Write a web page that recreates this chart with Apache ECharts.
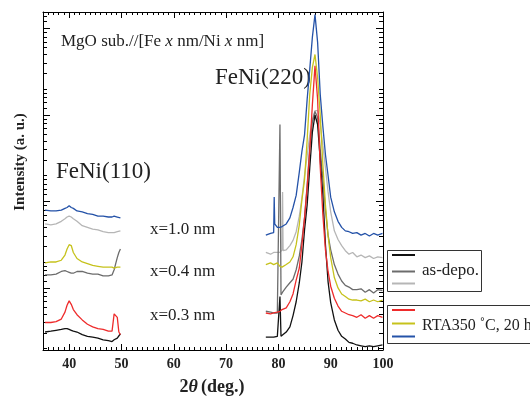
<!DOCTYPE html>
<html><head><meta charset="utf-8">
<script src="https://cdn.jsdelivr.net/npm/echarts@6/dist/echarts.min.js"></script>
<style>html,body{margin:0;padding:0;background:#fff}#c{width:530px;height:396px}</style>
</head><body><div id="c"></div>
<script>
// 2theta grids (deg.)
const leftX = [35.4, 36.5, 37.5, 38.5, 39.2, 39.6, 40.0, 40.4, 40.8, 41.5, 42.5, 43.5, 44.5, 45.5, 46.5, 47.5, 48.2, 48.6, 48.9, 49.2, 49.5, 49.8];
const rightX = [77.6, 78.5, 79.1, 79.2, 79.3, 79.8, 80.1, 80.3, 80.5, 80.7, 80.8, 80.9, 81.5, 82.2, 82.8, 83.4, 84.0, 84.5, 85.0, 85.5, 86.0, 86.5, 87.0, 87.5, 88.0, 88.5, 89.0, 89.5, 90.0, 90.7, 91.4, 92.1, 92.8, 93.5, 94.2, 95.0, 95.8, 96.6, 97.4, 98.2, 99.0, 99.9];

// log10(intensity, a.u.)
const blackLeft  = [0.49, 0.50, 0.51, 0.52, 0.53, 0.53, 0.52, 0.51, 0.50, 0.49, 0.46, 0.44, 0.43, 0.42, 0.40, 0.39, 0.38, 0.40, 0.41, 0.42, 0.44, 0.47];
const blackRight = [0.43, 0.43, 0.43, 0.42, 0.43, 0.44, 0.44, 0.90, 0.44, 0.46, 0.46, 0.46, 0.49, 0.55, 0.68, 0.84, 1.06, 1.30, 1.67, 1.96, 2.39, 2.80, 3.00, 2.89, 2.48, 2.08, 1.50, 1.07, 0.83, 0.63, 0.51, 0.44, 0.41, 0.37, 0.36, 0.34, 0.33, 0.32, 0.33, 0.32, 0.33, 0.34];
const dgrayLeft  = [1.15, 1.15, 1.16, 1.19, 1.20, 1.19, 1.18, 1.17, 1.17, 1.19, 1.19, 1.17, 1.16, 1.16, 1.14, 1.14, 1.15, 1.21, 1.28, 1.35, 1.41, 1.45];
const dgrayRight = [0.73, 0.72, 0.71, 0.72, 0.72, 0.71, 0.73, 2.89, 0.92, 0.94, 0.95, 0.96, 1.01, 1.06, 1.10, 1.21, 1.37, 1.56, 1.81, 2.19, 2.62, 2.92, 3.04, 2.97, 2.60, 2.27, 1.90, 1.61, 1.44, 1.27, 1.16, 1.08, 1.03, 1.01, 0.98, 0.98, 0.99, 0.95, 0.98, 0.94, 0.98, 0.97];
const lgrayLeft  = [1.74, 1.73, 1.74, 1.77, 1.80, 1.82, 1.83, 1.82, 1.80, 1.77, 1.72, 1.70, 1.68, 1.67, 1.65, 1.64, 1.64, 1.64, 1.65, 1.65, 1.66, 1.66];
const lgrayRight = [1.41, 1.39, 1.41, 1.41, 1.42, 1.41, 1.41, 1.41, 1.42, 1.44, 2.11, 1.43, 1.44, 1.49, 1.55, 1.65, 1.83, 2.04, 2.30, 2.53, 2.77, 2.95, 3.05, 3.05, 2.89, 2.65, 2.39, 2.11, 1.88, 1.66, 1.56, 1.49, 1.43, 1.39, 1.41, 1.36, 1.38, 1.35, 1.37, 1.34, 1.36, 1.35];
const redLeft    = [0.60, 0.60, 0.61, 0.64, 0.72, 0.80, 0.85, 0.81, 0.75, 0.69, 0.63, 0.58, 0.55, 0.53, 0.52, 0.50, 0.50, 0.70, 0.68, 0.66, 0.49, 0.46];
const redRight   = [0.71, 0.70, 0.71, 0.71, 0.71, 0.72, 0.72, 0.73, 0.73, 0.75, 0.75, 0.75, 0.77, 0.84, 0.93, 1.09, 1.23, 1.50, 1.81, 2.16, 2.60, 3.12, 3.57, 3.18, 2.40, 1.85, 1.44, 1.19, 1.02, 0.88, 0.79, 0.73, 0.71, 0.69, 0.68, 0.66, 0.69, 0.65, 0.68, 0.65, 0.68, 0.66];
const yellowLeft = [1.29, 1.30, 1.30, 1.32, 1.38, 1.45, 1.50, 1.49, 1.41, 1.34, 1.30, 1.28, 1.26, 1.25, 1.24, 1.24, 1.24, 1.23, 1.24, 1.24, 1.23, 1.24];
const yellowRight= [1.27, 1.29, 1.27, 1.28, 1.28, 1.29, 1.28, 1.25, 1.24, 1.24, 1.25, 1.25, 1.27, 1.30, 1.36, 1.50, 1.73, 2.02, 2.25, 2.71, 3.24, 3.55, 3.70, 3.43, 3.00, 2.43, 1.96, 1.60, 1.35, 1.12, 1.00, 0.93, 0.90, 0.87, 0.86, 0.86, 0.85, 0.87, 0.84, 0.86, 0.84, 0.86];
const blueLeft   = [1.90, 1.89, 1.89, 1.90, 1.92, 1.93, 1.95, 1.93, 1.92, 1.89, 1.88, 1.86, 1.85, 1.83, 1.83, 1.82, 1.82, 1.83, 1.83, 1.82, 1.81, 1.81];
const blueRight  = [1.61, 1.63, 1.64, 2.05, 1.74, 1.70, 1.70, 1.70, 1.69, 1.71, 1.71, 1.72, 1.74, 1.81, 1.93, 2.07, 2.34, 2.58, 2.77, 3.18, 3.53, 3.90, 4.16, 3.84, 3.24, 2.87, 2.54, 2.30, 2.05, 1.88, 1.77, 1.70, 1.66, 1.65, 1.63, 1.64, 1.61, 1.63, 1.60, 1.63, 1.61, 1.63];

const xTickLabels = [40, 50, 60, 70, 80, 90, 100];
const yDecades = [1, 2, 3, 4];
const yMinorFactors = [1.2, 1.4, 1.6, 1.8, 2, 3, 4, 5, 6, 7, 8, 9];

const X_MIN = 35, X_MAX = 100, Y_MIN = 0.282, Y_MAX = 4.191;
const xMinor = [];
for (let v = 36; v < 100; v++) if (v % 10 !== 0) xMinor.push(v);
const yMinor = [];
for (let n = 0; n <= 4; n++) yMinorFactors.forEach(f => { const v = n + Math.log10(f); if (v > Y_MIN && v < Y_MAX) yMinor.push(v); });

function seg(l, r) {
  return leftX.map((x, i) => [x, l[i]]).concat([[64, '-']], rightX.map((x, i) => [x, r[i]]));
}

const C = { black: '#111111', dgray: '#6c6c6c', lgray: '#b6b6b6', red: '#ee2b2b', yellow: '#c6c21c', blue: '#2452a8' };
const serif = 'Liberation Serif';

function xAx(pos, ticks, len, showLine, labels) {
  return { type: 'value', position: pos, min: X_MIN, max: X_MAX, gridIndex: 0,
    axisLine: { show: showLine, lineStyle: { color: '#000', width: 1 } },
    axisTick: { show: true, inside: true, length: len, customValues: ticks, lineStyle: { color: '#000', width: 1 } },
    axisLabel: labels ? { show: true, customValues: xTickLabels, margin: 7, fontFamily: serif, fontWeight: 'bold', fontSize: 14, color: '#222' } : { show: false },
    splitLine: { show: false } };
}
function yAx(pos, ticks, len, showLine) {
  return { type: 'value', position: pos, min: Y_MIN, max: Y_MAX, gridIndex: 0,
    axisLine: { show: showLine, lineStyle: { color: '#000', width: 1 } },
    axisTick: { show: true, inside: true, length: len, customValues: ticks, lineStyle: { color: '#000', width: 1 } },
    axisLabel: { show: false }, splitLine: { show: false } };
}

const seriesDefs = [
  ['lgray', lgrayLeft, lgrayRight],
  ['dgray', dgrayLeft, dgrayRight],
  ['black', blackLeft, blackRight],
  ['red', redLeft, redRight],
  ['yellow', yellowLeft, yellowRight],
  ['blue', blueLeft, blueRight]
];

const chart = echarts.init(document.getElementById('c'), null, { renderer: 'canvas' });
chart.setOption({
  animation: false,
  backgroundColor: '#fff',
  grid: { left: 43, top: 12, width: 340, height: 338, containLabel: false },
  xAxis: [
    xAx('bottom', xTickLabels, 6, true, true),
    xAx('bottom', xMinor, 3, false, false),
    xAx('top', xTickLabels, 6, true, false),
    xAx('top', xMinor, 3, false, false)
  ],
  yAxis: [
    yAx('left', yDecades, 7, true),
    yAx('left', yMinor, 4, false),
    yAx('right', yDecades, 7, true),
    yAx('right', yMinor, 4, false)
  ],
  series: seriesDefs.map(([k, l, r]) => ({
    type: 'line', xAxisIndex: 0, yAxisIndex: 0, showSymbol: false, symbol: 'none',
    connectNulls: false, data: seg(l, r),
    lineStyle: { color: C[k], width: 1.3 }, itemStyle: { color: C[k] }
  })),
  graphic: [
    { type: 'text', left: 61, top: 33, style: { text: '{a|MgO sub.//[Fe }{i|x}{a| nm/Ni }{i|x}{a| nm]}',
      rich: { a: { fontFamily: serif, fontSize: 17, fill: '#222' }, i: { fontFamily: serif, fontSize: 17, fontStyle: 'italic', fill: '#222' } } } },
    { type: 'text', left: 215, top: 66, style: { text: 'FeNi(220)', fontFamily: serif, fontSize: 23, fill: '#222' } },
    { type: 'text', left: 56, top: 160, style: { text: 'FeNi(110)', fontFamily: serif, fontSize: 23, fill: '#222' } },
    { type: 'text', left: 150, top: 221, style: { text: 'x=1.0 nm', fontFamily: serif, fontSize: 17, fill: '#222' } },
    { type: 'text', left: 150, top: 263, style: { text: 'x=0.4 nm', fontFamily: serif, fontSize: 17, fill: '#222' } },
    { type: 'text', left: 150, top: 307, style: { text: 'x=0.3 nm', fontFamily: serif, fontSize: 17, fill: '#222' } },
    { type: 'text', x: 20, y: 162, rotation: Math.PI / 2, style: { text: 'Intensity (a. u.)', fontFamily: serif, fontWeight: 'bold', fontSize: 15, fill: '#222', align: 'center', verticalAlign: 'middle' } },
    { type: 'text', x: 212, y: 387, style: { text: '2{t|θ}(deg.)', align: 'center', verticalAlign: 'middle', fontFamily: serif, fontWeight: 'bold', fontSize: 18, fill: '#222',
      rich: { t: { fontFamily: serif, fontWeight: 'bold', fontStyle: 'italic', fontSize: 18, fill: '#222', padding: [0, 3, 0, 0] } } } },
    { type: 'rect', shape: { x: 387.5, y: 250.5, width: 94, height: 41 }, style: { fill: '#fff', stroke: '#333', lineWidth: 1 } },
    { type: 'line', shape: { x1: 392, y1: 255, x2: 415, y2: 255 }, style: { stroke: C.black, lineWidth: 2 } },
    { type: 'line', shape: { x1: 392, y1: 271.5, x2: 415, y2: 271.5 }, style: { stroke: C.dgray, lineWidth: 2 } },
    { type: 'line', shape: { x1: 392, y1: 283.5, x2: 415, y2: 283.5 }, style: { stroke: C.lgray, lineWidth: 2 } },
    { type: 'text', left: 422, top: 262, style: { text: 'as-depo.', fontFamily: serif, fontSize: 17, fill: '#222' } },
    { type: 'rect', shape: { x: 387.5, y: 305.5, width: 150, height: 38 }, style: { fill: '#fff', stroke: '#333', lineWidth: 1 } },
    { type: 'line', shape: { x1: 392, y1: 310, x2: 415, y2: 310 }, style: { stroke: C.red, lineWidth: 2 } },
    { type: 'line', shape: { x1: 392, y1: 323.5, x2: 415, y2: 323.5 }, style: { stroke: C.yellow, lineWidth: 2 } },
    { type: 'line', shape: { x1: 392, y1: 336.5, x2: 415, y2: 336.5 }, style: { stroke: C.blue, lineWidth: 2 } },
    { type: 'text', left: 422, top: 318, style: { text: 'RTA350 ˚C, 20 h', fontFamily: serif, fontSize: 16, fill: '#222' } }
  ]
});
</script></body></html>
